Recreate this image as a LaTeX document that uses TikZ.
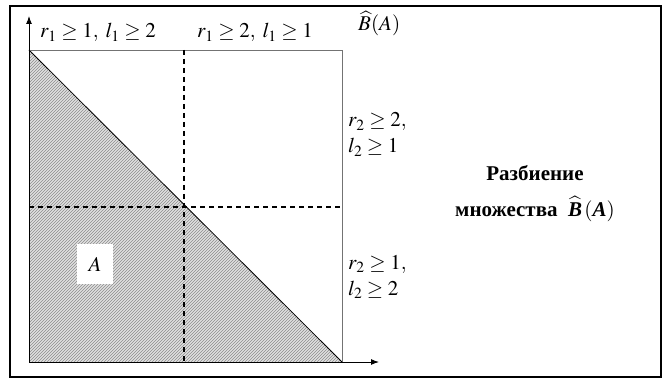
\documentclass[tikz,border=0pt]{standalone}
\usepackage{mathptmx}
\usepackage{fontspec}
\setmainfont{Liberation Serif}
\usetikzlibrary{patterns, arrows.meta}
\begin{document}
\begin{tikzpicture}[x=1pt, y=-1pt, font=\fontsize{21}{25}\selectfont,
    lab/.style={anchor=base west, inner sep=0pt},
    axis/.style={line width=1pt, -{Latex[length=8pt, width=6pt]}},
    gridline/.style={black!55, line width=0.7pt},
    split/.style={line width=1.6pt, dash pattern=on 5pt off 4pt},
    title/.style={anchor=base, inner sep=0pt, font=\fontsize{21}{25}\selectfont\bfseries}]
    \useasboundingbox (0,0) rectangle (668,379);
    \draw[line width=2pt] (10,6) rectangle (661,377);
    %
    \coordinate (O) at (29,362);
    \coordinate (TL) at (29,50);
    \coordinate (TR) at (342,50);
    \coordinate (BR) at (342,362);
    \coordinate (Ytip) at (29,16);
    \coordinate (Xtip) at (379,362);
    \coordinate (Mtop) at (184,50);
    \coordinate (Mbot) at (184,362);
    \coordinate (Mleft) at (29,207);
    \coordinate (Mright) at (342,207);
    %
    \fill[black!12] (TL) -- (O) -- (BR) -- cycle;
    \fill[pattern=north east lines, pattern color=black!45] (TL) -- (O) -- (BR) -- cycle;
    \draw[line width=0.8pt] (TL) -- (BR);
    \draw[gridline] (TL) -- (TR) -- (BR);
    %
    \draw[split] (Mtop) -- (Mbot);
    \draw[split] (Mleft) -- (Mright);
    %
    \draw[axis] (O) -- (Ytip);
    \draw[axis] (O) -- (Xtip);
    %
    \node[fill=white, minimum width=36pt, minimum height=40pt, inner sep=0pt] (setA) at (95,264) {$A$};
    %
    \node[lab] (top1) at (40,38) {$r_1 \geq 1,\; l_1 \geq 2$};
    \node[lab] (top2) at (197,38) {$r_1 \geq 2,\; l_1 \geq 1$};
    \node[lab] (hatB) at (358,31) {$\widehat{B}(A)$};
    %
    \node[lab] (up1) at (348,127) {$r_2 \geq 2,$};
    \node[lab] (up2) at (348,153) {$l_2 \geq 1$};
    \node[lab] (lo1) at (348,269) {$r_2 \geq 1,$};
    \node[lab] (lo2) at (348,295) {$l_2 \geq 2$};
    %
    \node[title] (title1) at (535,181) {Разбиение};
    \node[title] (title2) at (535,216)
        {множества\ \ $\widehat{\mbox{\bfseries\itshape B}}\,(\mbox{\bfseries\itshape A})$};
\end{tikzpicture}
\end{document}
